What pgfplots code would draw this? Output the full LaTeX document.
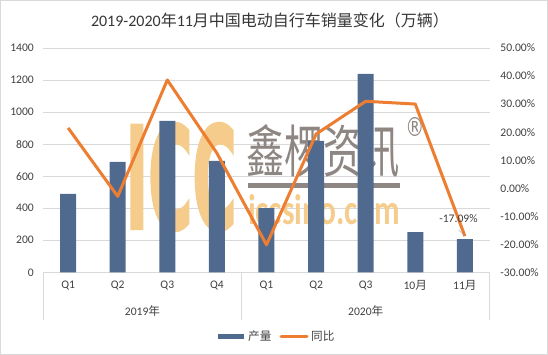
\documentclass[border=0pt]{standalone}
\usepackage{pgfplots}
\pgfplotsset{compat=1.18}
\usepackage{fontspec}
\setmainfont{Carlito}
\newfontfamily\cjk{Noto Sans CJK SC}
\newfontfamily\wmfont{DejaVu Sans}[BoldFeatures={FakeBold=2.5}]
\newfontfamily\regfont{DejaVu Sans}
\definecolor{barc}{HTML}{506A8F}
\definecolor{linec}{HTML}{ED7D31}
\definecolor{gridc}{HTML}{D9D9D9}
\definecolor{txt}{HTML}{404040}
\definecolor{wmo}{HTML}{F5CC8C}
\definecolor{wmg}{HTML}{8E8683}
\pgfplotstableread{
x v
0 490
1 690
2 945
3 695
4 400
5 820
6 1238
7 251
8 207
}\barsdata
\pgfplotstableread{
x v
0 21.5
1 -2.9
2 38.6
3 12.5
4 -20.2
5 19.3
6 31.0
7 30.0
8 -17.09
}\yoydata
\newcommand{\tf}{\fontsize{11.6bp}{13bp}\selectfont}
\begin{document}
\begin{tikzpicture}[every node/.style={inner sep=0pt}]
\path[use as bounding box] (0bp,0bp) rectangle (548bp,355bp);
\draw[gridc,line width=1.4bp] (0.7bp,0.7bp) rectangle (547.3bp,354.3bp);
\node[anchor=center,text=txt!85!black] at (270bp,335bp) {\fontsize{16bp}{18bp}\selectfont 2019-2020{\cjk 年}11{\cjk 月中国电动自行车销量变化（万辆）}};
\begin{axis}[
  at={(43.3bp,82.7bp)},anchor=south west,
  width=446.4bp,height=224.3bp,scale only axis,
  xmin=-0.5,xmax=8.5,ymin=0,ymax=1400,
  ytick={0,200,...,1400},
  xtick={0,...,8},
  xticklabels={Q1,Q2,Q3,Q4,Q1,Q2,Q3,{10{\cjk 月}},{11{\cjk 月}}},
  axis y line*=left,axis x line*=bottom,
  x axis line style={gridc,-},
  y axis line style={draw=none,-},
  ymajorgrids,grid style={gridc,line width=0.7bp},
  major tick style={draw=none},
  tick label style={font=\tf,text=txt},
  /pgf/number format/assume math mode=true,
  /pgf/number format/set thousands separator={},
  xticklabel style={anchor=center,yshift=-13bp},
  yticklabel style={xshift=-9.3bp},
  clip=false,
]
\node[text=wmo] at (axis cs:2.28,595) {\resizebox{111bp}{105bp}{\wmfont\bfseries ICC}};
\node[text=wmg] at (axis cs:5.14,757) {\resizebox{153bp}{48bp}{\cjk 鑫椤资讯}};
\node[text=wmg] at (axis cs:6.99,907) {\resizebox{19bp}{19bp}{\regfont ®}};
\fill[wmg] (axis cs:3.63,526) rectangle (axis cs:6.69,557);
\node[text=wmo] at (axis cs:5.16,389) {\resizebox{152bp}{30bp}{\bfseries iccsino.com}};
\addplot[ybar,bar width=16bp,fill=barc,draw=none] table[x=x,y=v] {\barsdata};
\draw[gridc] (axis cs:-0.5,0) -- ++(0bp,-47.4bp);
\draw[gridc] (axis cs:3.5,0) -- ++(0bp,-47.4bp);
\draw[gridc] (axis cs:8.5,0) -- ++(0bp,-47.4bp);
\node[text=txt,font=\tf] at (axis cs:1.5,-243) {2019{\cjk 年}};
\node[text=txt,font=\tf] at (axis cs:6,-243) {2020{\cjk 年}};
\end{axis}
\begin{axis}[
  at={(43.3bp,82.7bp)},anchor=south west,
  width=446.4bp,height=224.3bp,scale only axis,
  xmin=-0.5,xmax=8.5,ymin=-30,ymax=50,
  ytick={-30,-20,...,50},
  yticklabel={\pgfmathprintnumber[fixed,fixed zerofill,precision=2]{\tick}\%},
  axis y line*=right,axis x line=none,
  y axis line style={draw=none,-},
  major tick style={draw=none},
  tick label style={font=\tf,text=txt},
  /pgf/number format/assume math mode=true,
  yticklabel style={xshift=10.5bp},
  clip=false,
]
\addplot[linec,line width=3bp,line join=round] table[x=x,y=v] {\yoydata};
\node[text=txt,font=\tf] at (axis cs:7.87,-11) {-17.09\%};
\draw[gridc!70!black,line width=0.3bp] (axis cs:7.87,-14.9) -- (axis cs:8,-17);
\end{axis}
\fill[barc] (218bp,16.2bp) rectangle (244bp,21.2bp);
\node[anchor=west,text=txt,font=\tf\cjk] at (248bp,18.7bp) {产量};
\draw[linec,line width=3bp,line cap=round] (281bp,18.7bp) -- (307bp,18.7bp);
\node[anchor=west,text=txt,font=\tf\cjk] at (311bp,18.7bp) {同比};
\end{tikzpicture}
\end{document}
